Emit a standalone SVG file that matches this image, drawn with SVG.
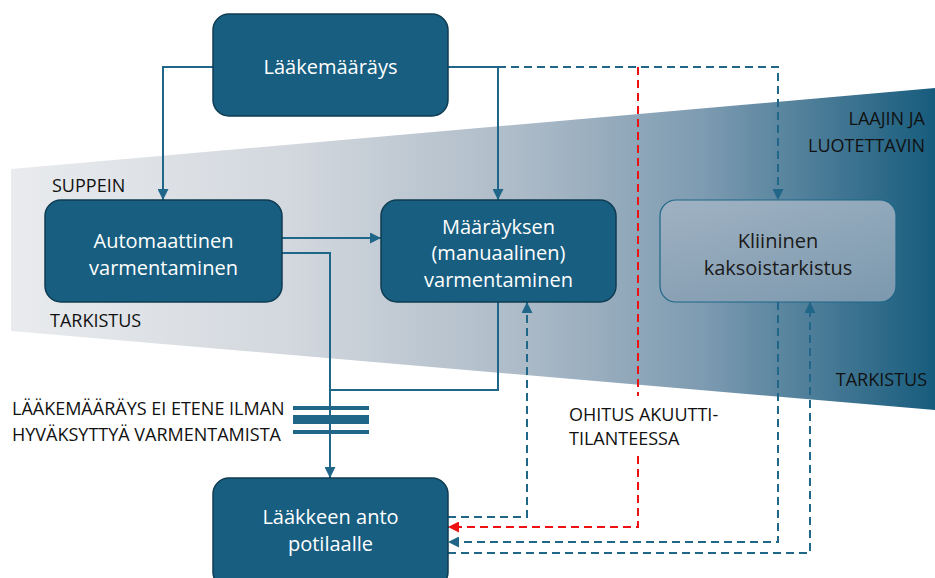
<svg xmlns="http://www.w3.org/2000/svg" width="935" height="578" viewBox="0 0 935 578">
  <defs>
    <linearGradient id="band" x1="11" y1="0" x2="935" y2="0" gradientUnits="userSpaceOnUse">
      <stop offset="0" stop-color="#e9ebee"/>
      <stop offset="0.3" stop-color="#d3d8de"/>
      <stop offset="0.55" stop-color="#adbbc8"/>
      <stop offset="0.75" stop-color="#7d9bb1"/>
      <stop offset="1" stop-color="#175c7d"/>
    </linearGradient>
    <linearGradient id="ghost" x1="0" y1="0" x2="0" y2="1">
      <stop offset="0" stop-color="#a3b4c4"/>
      <stop offset="1" stop-color="#8aa1b5"/>
    </linearGradient>
    <marker id="arr" viewBox="0 0 10 10" refX="10" refY="5" markerWidth="11" markerHeight="11" markerUnits="userSpaceOnUse" orient="auto">
      <path d="M0,0 L10,5 L0,10 Z" fill="#1f6688"/>
    </marker>
    <marker id="arrRed" viewBox="0 0 10 10" refX="10" refY="5" markerWidth="11" markerHeight="11" markerUnits="userSpaceOnUse" orient="auto">
      <path d="M0,0 L10,5 L0,10 Z" fill="#ee1111"/>
    </marker>
  </defs>
  <style>
    .node { fill: #175e80; stroke: #0f3c52; stroke-width: 1.5; }
    .ntext { font-family: "Open Sans", "Noto Sans", sans-serif; font-size: 20px; fill: #ffffff; text-anchor: middle; }
    .dtext { font-family: "Open Sans", "Noto Sans", sans-serif; font-size: 20px; fill: #1a1a1a; text-anchor: middle; }
    .lbl { font-family: "Open Sans", "Noto Sans", sans-serif; font-size: 18px; fill: #111111; }
    .solid { fill: none; stroke: #1f6688; stroke-width: 2; }
    .dash { fill: none; stroke: #1f6688; stroke-width: 2; stroke-dasharray: 8 5; }
    .red { fill: none; stroke: #ee1111; stroke-width: 2; stroke-dasharray: 8 5; }
    .bar { fill: #1f6688; }
  </style>

  <!-- widening band from narrow to broad checking -->
  <polygon points="11,169 935,88 935,410 11,331" fill="url(#band)"/>

  <!-- band labels -->
  <text class="lbl" x="52" y="192">SUPPEIN</text>
  <text class="lbl" x="50" y="327">TARKISTUS</text>
  <text class="lbl" x="925" y="125" text-anchor="end">LAAJIN JA</text>
  <text class="lbl" x="925" y="152" text-anchor="end">LUOTETTAVIN</text>
  <text class="lbl" x="927" y="386" text-anchor="end">TARKISTUS</text>
  <text class="lbl" x="12" y="415">LÄÄKEMÄÄRÄYS EI ETENE ILMAN</text>
  <text class="lbl" x="12" y="441">HYVÄKSYTTYÄ VARMENTAMISTA</text>
  <text class="lbl" x="569" y="421">OHITUS AKUUTTI-</text>
  <text class="lbl" x="569" y="445">TILANTEESSA</text>

  <!-- connectors -->
  <g id="connectors">
    <path class="solid" d="M213,67 H163 V200" marker-end="url(#arr)"/>
    <path class="solid" d="M448,67 H498 V200" marker-end="url(#arr)"/>
    <path class="dash" d="M498,67 H778 V200" marker-end="url(#arr)"/>
    <!-- emergency bypass, broken around its label -->
    <path class="red" d="M638,67 V396"/>
    <path class="red" d="M638,456 V527 H448" marker-end="url(#arrRed)"/>
    <path class="solid" d="M282,238 H381" marker-end="url(#arr)"/>
    <path class="solid" d="M282,253 H330 V478" marker-end="url(#arr)"/>
    <path class="solid" d="M498,302 V390 H330"/>
    <path class="dash" d="M448,517 H527 V302" marker-end="url(#arr)"/>
    <path class="dash" d="M778,302 V542 H448" marker-end="url(#arr)"/>
    <path class="dash" d="M448,553 H810 V302" marker-end="url(#arr)"/>
    <!-- barrier: no dispensing without approved verification -->
    <rect class="bar" x="293" y="406" width="76" height="4"/>
    <rect class="bar" x="293" y="415" width="76" height="9"/>
    <rect class="bar" x="293" y="430" width="76" height="4"/>
  </g>

  <g id="laakemaarays">
    <rect class="node" x="213" y="14" width="235" height="102" rx="16"/>
    <text class="ntext" x="330.5" y="74">Lääkemääräys</text>
  </g>

  <g id="automaattinen">
    <rect class="node" x="45" y="200" width="237" height="102" rx="16"/>
    <text class="ntext" x="163.5" y="248">Automaattinen</text>
    <text class="ntext" x="163.5" y="275">varmentaminen</text>
  </g>

  <g id="manuaalinen">
    <rect class="node" x="381" y="200" width="235" height="102" rx="16"/>
    <text class="ntext" x="498.5" y="234">Määräyksen</text>
    <text class="ntext" x="498.5" y="260">(manuaalinen)</text>
    <text class="ntext" x="498.5" y="287">varmentaminen</text>
  </g>

  <g id="kaksoistarkistus">
    <rect x="660" y="200" width="236" height="102" rx="16" fill="url(#ghost)" fill-opacity="0.85" stroke="#1f6688" stroke-width="1.2"/>
    <text class="dtext" x="778" y="248">Kliininen</text>
    <text class="dtext" x="778" y="275">kaksoistarkistus</text>
  </g>

  <g id="anto">
    <rect class="node" x="213" y="478" width="235" height="110" rx="16"/>
    <text class="ntext" x="330.5" y="524">Lääkkeen anto</text>
    <text class="ntext" x="330.5" y="551">potilaalle</text>
  </g>
</svg>
